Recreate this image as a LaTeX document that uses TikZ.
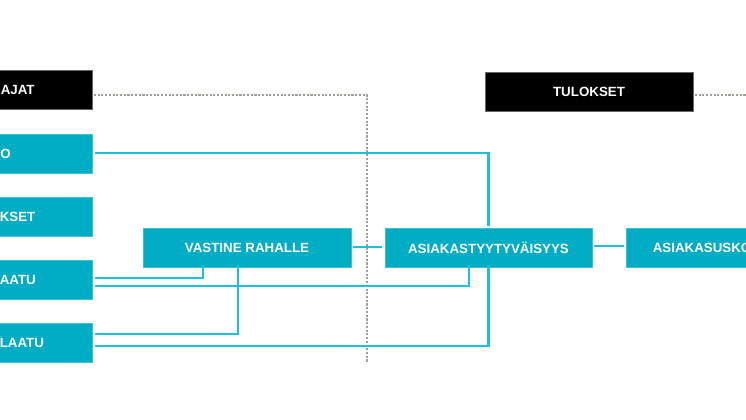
\documentclass[tikz,border=0pt]{standalone}
\usepackage{fontspec}
\setmainfont{Liberation Sans}
\usetikzlibrary{calc}
\definecolor{boxblue}{HTML}{00ADC5}
\definecolor{lineblue}{HTML}{1CBFDC}
\definecolor{dotgray}{HTML}{A39D98}
\tikzset{
  labelfont/.style={font=\bfseries\fontsize{10}{12}\selectfont},
  bluebox/.style={rectangle, fill=boxblue, draw=boxblue!75!white, line width=0.5pt, minimum height=29pt, inner sep=0pt, text=white, labelfont},
  blackbox/.style={rectangle, fill=black, draw=black!60, line width=0.5pt, minimum height=29pt, inner sep=0pt, text=white, labelfont},
  boxtext/.style={inner sep=0pt, anchor=west, text=white, labelfont},
  conn/.style={draw=lineblue, line width=2pt},
  dots/.style={draw=dotgray, line width=1.1pt, dash pattern=on 1.6pt off 1.2pt}
}
\begin{document}
\begin{tikzpicture}[x=0.75pt,y=-0.75pt]
\useasboundingbox (0,0) rectangle (746,419);
\clip (0,0) rectangle (746,419);
% left column (cut by the edge)
\node[blackbox, minimum width=222*0.75pt] (bl) at (-19,89.5) {};
\node[boxtext] (tbl) at (0.5,89.5) {AJAT};
\node[bluebox, minimum width=222*0.75pt] (b1) at (-19,154) {};
\node[boxtext] (tb1) at (0,154) {O};
\node[bluebox, minimum width=222*0.75pt] (b2) at (-19,217) {};
\node[boxtext] (tb2) at (-0.5,217) {KSET};
\node[bluebox, minimum width=222*0.75pt] (b3) at (-19,280) {};
\node[boxtext] (tb3) at (-0.5,280) {AATU};
\node[bluebox, minimum width=222*0.75pt] (b4) at (-19,343) {};
\node[boxtext] (tb4) at (-0.5,343) {LAATU};
% middle and right
\node[bluebox, minimum width=208*0.75pt] (vast) at (247,247.5) {VASTINE RAHALLE};
\node[bluebox, minimum width=207*0.75pt] (asia) at (488.5,247.5) {ASIAKASTYYTYVÄISYYS};
\node[bluebox, minimum width=208*0.75pt] (usko) at (730,247.5) {};
\node[boxtext] (tusko) at (652.5,247.5) {ASIAKASUSKO};
\node[blackbox, minimum width=208*0.75pt] (tulos) at (589,92) {TULOKSET};
% dotted separators
\coordinate (dv) at (367,363);
\coordinate (dr) at (760,95);
\draw[dots] ($(bl.east)+(1.5,5.5)$) -| (dv);
\draw[dots] ($(tulos.east)+(1.5,3)$) -- (dr);
% connectors
\draw[conn] ($(b1.east)+(3,-1)$) -| ($(asia.north)+(0,-2)$);
\draw[conn] ($(vast.east)+(2,-0.5)$) -- ($(asia.west)+(-3,-0.5)$);
\draw[conn] ($(asia.east)+(2,-1.5)$) -- ($(usko.west)+(-2,-1.5)$);
\draw[conn] ($(b3.east)+(3,-2)$) -| ($(vast.south)+(-44,-2)$);
\draw[conn] ($(b3.east)+(3,6)$) -| ($(asia.south)+(-19.5,-2)$);
\draw[conn] ($(b4.east)+(3,-9)$) -| ($(vast.south)+(-9,-2)$);
\draw[conn] ($(b4.east)+(3,3)$) -| ($(asia.south)+(0,-2)$);
\end{tikzpicture}
\end{document}
